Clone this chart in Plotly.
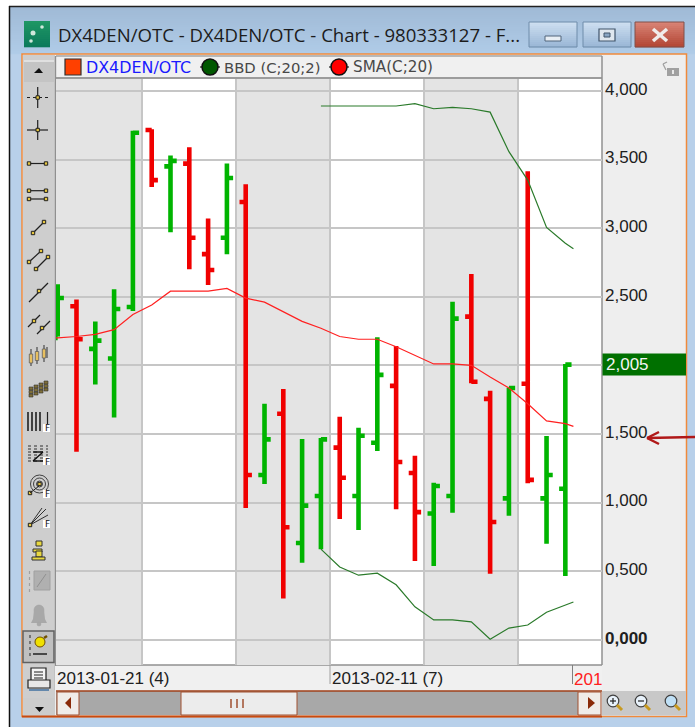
import plotly.graph_objects as go

# ---------- data ----------
bar_index = list(range(28))
open_ = [2.20, 2.43, 2.12, 2.05, 2.425, 3.715, 3.45, 3.47, 2.81, 2.93, 3.19, 1.20, 1.647, 0.705,
         1.047, 1.40, 1.047, 1.436, 1.85, 1.215, 0.92, 1.047, 2.355, 1.755, 1.03, 1.865, 1.03, 1.10]
high = [2.59, 2.48, 2.32, 2.555, 3.71, 3.72, 3.53, 3.59, 3.07, 3.47, 3.32, 1.72, 1.827, 1.463,
        1.47, 1.625, 1.545, 2.205, 2.14, 1.34, 1.144, 2.463, 2.665, 1.815, 1.837, 3.415, 1.485, 2.01]
low = [2.21, 1.37, 1.86, 1.62, 2.395, 3.30, 2.97, 2.70, 2.585, 2.81, 0.96, 1.135, 0.30, 0.56,
       0.66, 0.88, 0.80, 1.375, 0.95, 0.574, 0.537, 0.926, 1.87, 0.48, 0.904, 1.14, 0.70, 0.465]
close = [2.49, 2.19, 2.18, 2.41, 3.695, 3.35, 3.49, 2.93, 2.695, 3.365, 1.20, 1.46, 0.82, 0.977,
         1.46, 1.18, 1.487, 1.93, 1.295, 0.93, 1.12, 2.34, 1.88, 0.858, 1.835, 1.165, 1.20, 2.005]

line_x = [-0.09, 0, 1, 2, 3, 4, 5, 6, 7, 8, 9, 10, 11, 12, 13, 14, 15, 16, 17, 18, 19, 20, 21, 22, 23, 24, 25, 26, 27, 27.43]
sma = [2.20, 2.20, 2.21, 2.225, 2.26, 2.37, 2.44, 2.54, 2.54, 2.54, 2.56, 2.49, 2.46, 2.39, 2.32,
       2.27, 2.21, 2.19, 2.19, 2.135, 2.07, 2.01, 2.01, 2.0, 1.915, 1.835, 1.72, 1.595, 1.575, 1.555]
band_x = [14, 15, 16, 17, 18, 19, 20, 21, 22, 23, 24, 25, 26, 27, 27.43]
bbd_upper = [3.89, 3.89, 3.89, 3.89, 3.89, 3.907, 3.87, 3.88, 3.87, 3.845, 3.557, 3.35, 3.005, 2.89, 2.85]
bbd_lower = [0.66, 0.53, 0.47, 0.485, 0.40, 0.24, 0.144, 0.144, 0.13, 0.003, 0.085, 0.107, 0.20, 0.253, 0.275]

week_bounds = [-0.09, 4.5, 9.5, 14.5, 19.5, 24.5, 28.95]
y_ticks = [0, 0.5, 1, 1.5, 2, 2.5, 3, 3.5, 4]
y_labels = ["<b>0,000</b>", "0,500", "1,000", "1,500", "", "2,500", "3,000", "3,500", "4,000"]
last_label = "2,005"
date_labels = ["2013-01-21 (4)", "2013-02-11 (7)", "201"]
title_text = "DX4DEN/OTC - DX4DEN/OTC - Chart - 980333127 - F..."

# ---------- geometry helpers (window chrome, pixel space) ----------
W, H = 695, 727
L, R, T, B = 56, 602, 79, 665
X = lambda p: (p - L) / (R - L)
Y = lambda p: (B - p) / (B - T)
shapes, notes = [], []


def rect(x0, y0, x1, y1, fill, line=None, lw=1):
    shapes.append(dict(type="rect", xref="paper", yref="paper", x0=X(x0), x1=X(x1), y0=Y(y0), y1=Y(y1),
                       fillcolor=fill, line=dict(color=line or "rgba(0,0,0,0)", width=lw if line else 0),
                       layer="below"))


def seg(x0, y0, x1, y1, color="#202020", w=1.2, dash="solid"):
    shapes.append(dict(type="line", xref="paper", yref="paper", x0=X(x0), x1=X(x1), y0=Y(y0), y1=Y(y1),
                       line=dict(color=color, width=w, dash=dash), layer="below"))


def node(x, y):
    rect(x - 1.7, y - 1.7, x + 1.7, y + 1.7, "#e8c840", "#202020", 1)


def poly(pts, fill, line=None, lw=1, layer="below"):
    path = "M " + " L ".join(f"{X(a):.5f} {Y(b):.5f}" for a, b in pts) + " Z"
    shapes.append(dict(type="path", xref="paper", yref="paper", path=path, fillcolor=fill,
                       line=dict(color=line or "rgba(0,0,0,0)", width=lw if line else 0), layer=layer))


def circle(cx, cy, r, fill, line="#202020", lw=1):
    shapes.append(dict(type="circle", xref="paper", yref="paper", x0=X(cx - r), x1=X(cx + r), y0=Y(cy + r),
                       y1=Y(cy - r), fillcolor=fill, line=dict(color=line, width=lw), layer="below"))


def text(x, y, s, size, color="#202020", font="Liberation Sans", anchor="left"):
    notes.append(dict(xref="paper", yref="paper", x=X(x), y=Y(y), text=s, showarrow=False, xanchor=anchor,
                      yanchor="middle", borderpad=0, font=dict(size=size, color=color, family=font)))


def lerp(c0, c1, t):
    return "#%02x%02x%02x" % tuple(round(a + (b - a) * t) for a, b in zip(c0, c1))


def vgrad(x0, y0, x1, y1, c0, c1, step=2):
    y = y0
    while y < y1:
        t = (y - y0) / max(1, y1 - y0)
        rect(x0, y, x1, min(y + step, y1) + 0.3, lerp(c0, c1, t))
        y += step


# window frame
rect(9, 6, 695, 727, "#b8d0ea")
vgrad(10, 7, 695, 54, (160, 186, 214), (176, 204, 232))
seg(9, 6.5, 695, 6.5, "#202020", 1.5)
seg(9.5, 6, 9.5, 727, "#101010", 1.5)
# app icon
vgrad(24, 21, 50, 47, (30, 150, 100), (10, 120, 90))
circle(33, 33, 2.5, "#cfe8dc", "rgba(0,0,0,0)", 0)
circle(31, 41, 1.8, "#cfe8dc", "rgba(0,0,0,0)", 0)
circle(42, 27, 1.8, "#cfe8dc", "rgba(0,0,0,0)", 0)
text(57, 35, title_text, 18.6, "#1c1c1c", "Open Sans")
# caption buttons
for x0, x1 in [(529, 577), (583, 631)]:
    vgrad(x0, 22, x1, 47, (205, 222, 240), (150, 180, 212))
    rect(x0, 22, x1, 47, "rgba(0,0,0,0)", "#6f8caa", 1)
rect(545, 36, 561, 41, "#e8eef4", "#50647a", 1)
rect(599, 29, 615, 41, "#dfe7ef", "#40546a", 1.2)
rect(604, 33, 610, 37, "#8aa6c4", "#40546a", 1)
vgrad(635, 22, 684, 47, (216, 130, 116), (176, 66, 48))
rect(635, 22, 684, 47, "rgba(0,0,0,0)", "#80504a", 1)
seg(653, 29, 667, 41, "#f0ecea", 3.5)
seg(667, 29, 653, 41, "#f0ecea", 3.5)
# inner panel
rect(22, 54, 686.5, 716.5, "#eeeeee", "#f08a3c", 1.5)
rect(23, 55, 55, 716, "#cecece")
rect(24, 60, 54, 82, "#c4c4c4")
seg(24, 61, 54, 61, "#f4f4f4", 1.2)
rect(56, 56, 602, 78, "#f0f0f0")
seg(56, 78, 602, 78, "#808080", 1.4)
seg(56, 56, 602, 56, "#808080", 1.2)
seg(55.5, 56, 55.5, 690, "#909090", 1.4)
rect(55, 666, 602, 690, "#f0f0f0")
rect(56, 79, 602, 665, "#ffffff")
seg(602, 56, 602, 665, "#909090", 1.5)
seg(56, 665, 602, 665, "#909090", 1.6)
seg(330, 665, 330, 684, "#a0a0a0", 1)
seg(572.5, 665, 572.5, 684, "#808080", 1)
rect(602, 691, 686, 715.5, "#c8c8c8")
rect(23, 698, 55, 716, "#cccccc")
# scrollbar
rect(56, 691, 578, 715, "#a8a8a8")
seg(56, 691, 602, 691, "#a0401a", 1.5)
seg(22, 716.5, 602, 716.5, "#c84a10", 2)
rect(57, 692, 79, 715, "#f0ece8", "#a05030", 1)
poly([(71, 697), (71, 709), (65, 703)], "#8a2a08")
rect(181, 692, 297, 715, "#ececec", "#a05030", 1)
for sx in (231, 237, 243):
    seg(sx, 699, sx, 708, "#a05030", 1.5)
rect(578, 692, 601, 715, "#f0ece8", "#a05030", 1)
poly([(588, 697), (588, 709), (595, 703)], "#8a2a08")
# magnifiers
for cx, sign in [(613, "+"), (641, "-"), (671, "")]:
    circle(cx, 701, 5.8, "#e8f2fb" if sign else "#bfe0f6", "#404040", 1.2)
    seg(cx + 4, 705, cx + 9, 710, "#c89a20", 3)
    if sign:
        seg(cx - 3, 701, cx + 3, 701, "#202020", 1.2)
    if sign == "+":
        seg(cx, 698, cx, 704, "#202020", 1.2)
# lock
rect(667, 68, 679, 76, "#a0a0a0")
seg(663, 64, 667, 62, "#a0a0a0", 1.3)
seg(663, 64, 666, 70, "#a0a0a0", 1.3)
rect(672, 70, 674, 74, "#e8e8e8")
# legend swatches
rect(65, 59, 81, 75, "#ff4000", "#303030", 1.2)
for cx, fill in [(210, "#005800"), (339, "#ff0000")]:
    seg(cx - 10, 67, cx + 10, 67, "#202020", 1.2)
    circle(cx, 67, 8, fill, "#101010", 1.5)
text(85, 67.5, "DX4DEN/OTC", 15.9, "#1a1aff", "DejaVu Sans")
text(223, 67.5, "BBD (C;20;2)", 14.8, "#484848", "DejaVu Sans")
text(352, 67.5, "SMA(C;20)", 15.2, "#484848", "DejaVu Sans")
# toolbar icons
poly([(34, 73), (43, 73), (39, 68)], "#101010")
seg(37.7, 87, 37.7, 108)
seg(27, 97.5, 48, 97.5, "#202020", 1.2, "dot")
node(37.7, 97.5)
seg(37.7, 120, 37.7, 140)
seg(27, 130, 48, 130)
node(37.7, 130)
seg(29, 163.5, 46, 163.5)
node(29, 163.5); node(46, 163.5)
seg(29, 190.7, 46, 190.7); seg(29, 199, 46, 199)
for a in (29, 46):
    node(a, 190.7); node(a, 199)
seg(33, 233, 44, 222)
node(33, 233); node(44, 222)
seg(29, 262, 41, 251); seg(36, 269, 48, 257)
for a, b in [(29, 262), (41, 251), (36, 269), (48, 257)]:
    node(a, b)
seg(29, 302, 48, 283); node(39, 291)
seg(28, 327, 40, 315); seg(37, 334, 50, 321); node(34, 321); node(42, 328)
for i, a in enumerate((31, 37, 44)):
    seg(a, 349 - i * 2, a, 366 - i * 2, "#303030", 1)
    rect(a - 1.7, 354 - i * 2.5, a + 1.7, 363 - i * 2.5, "#e8c060", "#606060", 0.8)
seg(47, 347, 47, 358, "#303030", 1)
for i in range(4):
    for j in range(3):
        rect(29 + i * 5, 387 + j * 3.5 - i * 2, 33 + i * 5, 390 + j * 3.5 - i * 2, "#807038", "#303030", 0.6)
for a in (28, 32, 36, 40):
    seg(a, 412, a, 431, "#202020", 1.6)
seg(47.5, 412, 47.5, 424, "#202020", 1.2)
rect(43, 424, 50, 432, "#ffffff")
text(43.5, 428.5, "F", 9, "#101010", "DejaVu Sans", "left")
for b in (446, 449, 452, 455, 458, 461):
    seg(28, b, 48, b, "#303030", 1, "dot")
seg(33, 452, 43, 452, "#101010", 1.4); seg(43, 452, 33, 461, "#101010", 1.4); seg(33, 461, 45, 461, "#101010", 1.4)
rect(43, 457, 50, 465, "#ffffff")
text(43.5, 461.5, "F", 9, "#101010", "DejaVu Sans", "left")
for r in (9, 6, 3):
    circle(39.5, 484, r, "rgba(0,0,0,0)", "#404040", 1)
node(39.5, 484); node(30, 493)
seg(30, 493, 39, 486, "#202020", 1)
rect(43, 490, 50, 498, "#ffffff")
text(43.5, 494, "F", 9, "#101010", "DejaVu Sans", "left")
for a, b in [(46, 509), (42, 508), (48, 515)]:
    seg(30, 525, a, b, "#303030", 1)
node(30, 525)
rect(43, 520, 50, 528, "#ffffff")
text(43.5, 524, "F", 9, "#101010", "DejaVu Sans", "left")
rect(36, 541, 42, 546, "#e8d840", "#303030", 1)
rect(33, 549, 42, 552, "#e8d840", "#303030", 1)
rect(36, 551, 42, 557, "#e8d840", "#303030", 1)
rect(32, 557, 45, 560, "#e8d840", "#303030", 1)
seg(29.5, 571, 29.5, 594, "#a0a0a0", 1.2, "dot")
rect(34, 571, 50, 590, "#b0b0b0", "#a0a0a0", 1)
seg(37, 587, 46, 574, "#909090", 1)
# bell
circle(39, 610, 5, "#a8a8a8", "#a0a0a0", 0.5)
poly([(34, 610), (44, 610), (45, 619), (47, 623), (31, 623), (33, 619)], "#a8a8a8")
circle(39, 624, 2, "#a8a8a8", "#a0a0a0", 0.5)
# pressed pin button
rect(23, 631, 54, 662.5, "#c0c0c0", "#606060", 1.5)
seg(30, 635, 30, 658, "#404040", 1.2, "dot")
seg(33, 654, 47, 654, "#202020", 1.5)
circle(40, 642, 5, "#f0e000", "#705000", 1)
seg(44, 638, 47, 636, "#705000", 2.5)
rect(31, 668, 46, 682, "#f4f4f4", "#202020", 1.2)
rect(28, 680, 50, 688, "#e8e8e8", "#202020", 1.2)
seg(34, 672, 43, 672, "#202020", 1); seg(34, 675, 43, 675, "#202020", 1); seg(34, 678, 43, 678, "#202020", 1)
seg(29, 690, 49, 690, "#4070a0", 1.5)
poly([(35, 707), (44, 707), (39.5, 712)], "#101010")

# week shading (data x, from the week boundaries)
for i in range(0, len(week_bounds) - 1, 2):
    shapes.append(dict(type="rect", xref="x", yref="paper", x0=week_bounds[i], x1=week_bounds[i + 1],
                       y0=0, y1=1, fillcolor="#e4e4e4", line=dict(width=0), layer="below"))

# text on the axes
text(56, 678, date_labels[0], 17)
text(330.5, 678, date_labels[1], 17)
text(572.5, 679, date_labels[2], 17, "#ff2020")

# last-price box
box_half = 11
notes.append(dict(xref="paper", yref="y", x=X(605), y=close[-1], text=last_label, showarrow=False,
                  xanchor="left", yanchor="middle", borderpad=0,
                  font=dict(size=17, color="#f4f4f4", family="Liberation Sans")))
py_last = 639.7 - close[-1] * 137.2
rect(602.5, py_last - box_half, 686, py_last + box_half, "#007000")

fig = go.Figure()
fig.add_trace(go.Ohlc(x=bar_index, open=open_, high=high, low=low, close=close, tickwidth=0.33,
                      increasing=dict(line=dict(color="#00b400", width=4.6)),
                      decreasing=dict(line=dict(color="#f00000", width=4.6)),
                      name="DX4DEN/OTC", hoverinfo="skip"))
fig.add_trace(go.Scatter(x=line_x, y=sma, mode="lines", line=dict(color="#ff2020", width=1.2), name="SMA(C;20)"))
fig.add_trace(go.Scatter(x=band_x, y=bbd_upper, mode="lines", line=dict(color="#2a7a2a", width=1.2), name="BBD (C;20;2)"))
fig.add_trace(go.Scatter(x=band_x, y=bbd_lower, mode="lines", line=dict(color="#2a7a2a", width=1.2), showlegend=False))

# arrow pointing at the axis
seg(695, 437, 647, 438, "#b01818", 2.4)
seg(647, 438, 659, 432, "#b01818", 2.4)
seg(647, 438, 659, 444, "#b01818", 2.4)
for s in shapes[-3:]:
    s["layer"] = "above"

fig.update_layout(
    width=W, height=H, autosize=False, showlegend=False,
    margin=dict(l=L, r=W - R, t=T, b=H - B, pad=0),
    paper_bgcolor="#ffffff", plot_bgcolor="rgba(0,0,0,0)",
    shapes=shapes, annotations=notes,
    xaxis=dict(range=[week_bounds[0], week_bounds[-1]], tickmode="array", tickvals=week_bounds[1:-1],
               showticklabels=False, ticks="", showgrid=True, gridcolor="#c6c6c6", gridwidth=1.6,
               zeroline=False, showline=False, rangeslider=dict(visible=False)),
    yaxis=dict(range=[-0.1844, 4.0867], side="right", tickmode="array", tickvals=y_ticks, ticktext=y_labels,
               showgrid=True, gridcolor="#c6c6c6", gridwidth=1.6, zeroline=False, showline=False,
               ticks="", ticklabelstandoff=2, ticklabelshift=-2,
               tickfont=dict(size=17, color="#202020", family="Liberation Sans")),
)
fig.write_html("out.html", config=dict(displayModeBar=False),
               post_script="document.body.style.margin='0';document.body.style.overflow='hidden';")
